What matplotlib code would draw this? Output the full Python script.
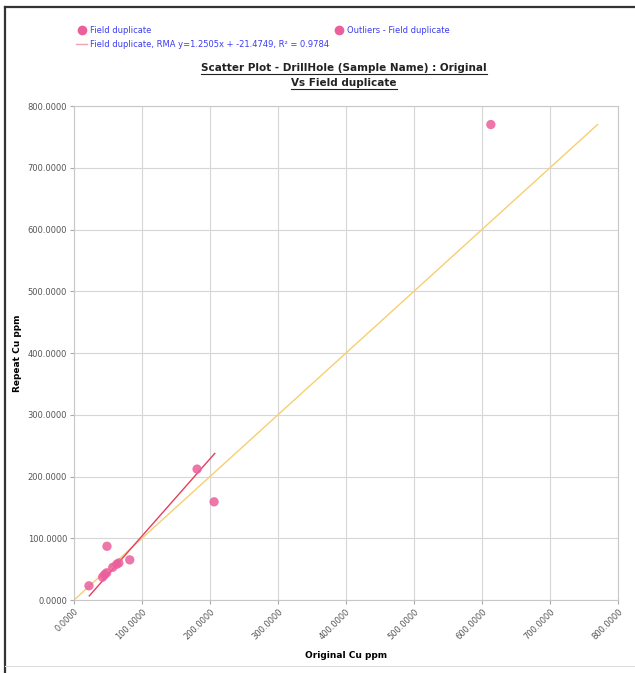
import matplotlib
matplotlib.use("Agg")
import matplotlib.pyplot as plt
from matplotlib.lines import Line2D
import numpy as np

# Field duplicate pairs (original vs repeat, Cu ppm)
original = [22, 42, 45, 48, 57, 63, 66, 82, 48.5, 181, 206]
repeat = [23, 37, 41, 44, 53, 58, 60, 65, 87, 212, 159]

# Outlier pair
outlier_original = [613]
outlier_repeat = [770]

# Reduced major axis fit
rma_slope = 1.2505
rma_intercept = -21.4749
rma_r2 = 0.9784
rma_x = [22.5, 207]

ticks = [0, 100, 200, 300, 400, 500, 600, 700, 800]

pink = "#ea5f9c"
rma_red = "#e63d5c"
one_to_one = "#f6cf72"
legend_blue = "#3c3cf0"

plt.rcParams["font.family"] = ["DejaVu Sans"]

fig = plt.figure(figsize=(6.35, 6.73), dpi=100)
ax = fig.add_axes([74 / 635, 1 - 600 / 673, 544 / 635, 494 / 673])

# 1:1 reference line up to the largest value
top = max(max(original), max(repeat), max(outlier_original), max(outlier_repeat))
ax.plot([0, top], [0, top], color=one_to_one, lw=1.0, zorder=2)

rx = np.array(rma_x)
ax.plot(rx, rma_slope * rx + rma_intercept, color=rma_red, lw=1.0, zorder=3)

ax.scatter(original, repeat, s=45, color=pink, alpha=0.85, edgecolors="none", zorder=4)
ax.scatter(outlier_original, outlier_repeat, s=45, color=pink, alpha=0.85,
           edgecolors="none", zorder=4)

ax.set_xlim(0, 800)
ax.set_ylim(0, 800)
ax.set_xticks(ticks)
ax.set_yticks(ticks)
ax.set_xticklabels([f"{t:.4f}" for t in ticks], rotation=45, ha="right",
                   rotation_mode="anchor", fontsize=6, color="#555555")
ax.set_yticklabels([f"{t:.4f}" for t in ticks], fontsize=6, color="#555555")
ax.tick_params(length=3, color="#aaaaaa", pad=2)
ax.grid(True, color="#d6d6d6", lw=0.8)
ax.set_axisbelow(True)
for sp in ax.spines.values():
    sp.set_color("#c8c8c8")

ax.set_xlabel("Original Cu ppm", fontsize=6.5, fontweight="bold")
ax.set_ylabel("Repeat Cu ppm", fontsize=6.5, fontweight="bold")
ax.xaxis.set_label_coords(0.5, (600 - 655) / 494)
ax.yaxis.set_label_coords((18 - 74) / 544, 0.5)
ax.xaxis.label.set_va("center")
ax.yaxis.label.set_va("center")

# Legend
handles = [
    Line2D([], [], marker="o", ls="none", ms=7, color=pink, mec="none"),
    Line2D([], [], color="#f2a3b6", lw=1.0),
    Line2D([], [], marker="o", ls="none", ms=7, color=pink, mec="none"),
]
labels = [
    "Field duplicate",
    f"Field duplicate, RMA y={rma_slope:.4f}x + {rma_intercept:.4f}, R\u00b2 = {rma_r2:.4f}",
    "Outliers - Field duplicate",
]
leg = fig.legend(handles, labels, ncol=2, loc="upper left",
                 bbox_to_anchor=(72 / 635, 1 - 22 / 673), frameon=False,
                 fontsize=6, handlelength=1.3, handletextpad=0.3,
                 columnspacing=0.6, labelspacing=0.6, borderpad=0)
for t in leg.get_texts():
    t.set_color(legend_blue)

# Title, underlined
title_lines = ["Scatter Plot - DrillHole (Sample Name) : Original", "Vs Field duplicate"]
title_y = [1 - 68 / 673, 1 - 83 / 673]
title_texts = []
for s, y in zip(title_lines, title_y):
    title_texts.append(fig.text(344 / 635, y, s, ha="center", va="center",
                                fontsize=7.5, fontweight="bold", color="#222222"))

fig.canvas.draw()
renderer = fig.canvas.get_renderer()
for t in title_texts:
    bb = t.get_window_extent(renderer).transformed(fig.transFigure.inverted())
    yl = bb.y0 - 0.002
    fig.add_artist(Line2D([bb.x0, bb.x1], [yl, yl], transform=fig.transFigure,
                          color="#222222", lw=0.8))

# Page border
fig.add_artist(Line2D([5 / 635, 5 / 635], [0, 1 - 7 / 673], transform=fig.transFigure,
                      color="#333333", lw=1.6))
fig.add_artist(Line2D([5 / 635, 1], [1 - 7 / 673, 1 - 7 / 673], transform=fig.transFigure,
                      color="#333333", lw=1.6))
fig.add_artist(Line2D([5 / 635, 1], [1 - 666 / 673, 1 - 666 / 673], transform=fig.transFigure,
                      color="#dddddd", lw=0.8))

fig.savefig("out.png", dpi=100)
